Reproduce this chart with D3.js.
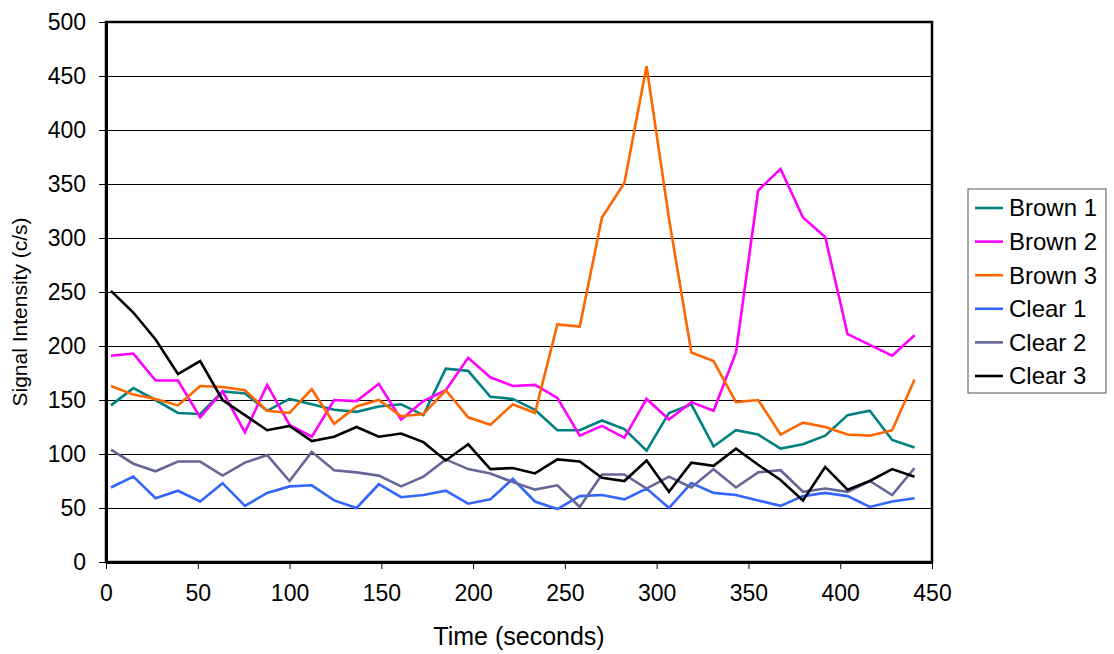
<!DOCTYPE html>
<html><head><meta charset="utf-8">
<script src="https://cdn.jsdelivr.net/npm/d3@7"></script>
<style>body{margin:0;background:#fff} svg text{font-family:"Liberation Sans",Arial,sans-serif;fill:#000}</style>
</head><body><svg id="c" width="1114" height="654"></svg>
<script>
const times = [2.7,14.9,27.0,39.2,51.3,63.5,75.7,87.8,100.0,112.1,124.3,136.5,148.6,160.8,172.9,185.1,197.3,209.4,221.6,233.7,245.9,258.1,270.2,282.4,294.5,306.7,318.9,331.0,343.2,355.3,367.5,379.7,391.8,404.0,416.1,428.3,440.5];
const seriesNames = ["Brown 1","Brown 2","Brown 3","Clear 1","Clear 2","Clear 3"];
const seriesColors = ["#008080","#FF00FF","#FF6600","#3366FF","#666699","#000000"];
const brown1 = [145,161,150,138,137,158,156,140,151,146,141,139,144,146,136,179,177,153,151,141,122,122,131,123,103,138,146,107,122,118,105,109,117,136,140,113,106];
const brown2 = [191,193,168,168,134,158,120,164,127,116,150,149,165,132,149,159,189,171,163,164,152,117,126,115,151,132,148,140,194,344,364,319,301,211,201,191,210];
const brown3 = [163,155,151,145,163,162,159,140,138,160,128,144,150,135,137,159,134,127,146,138,220,218,319,351,459,318,194,186,148,150,118,129,125,118,117,122,169];
const clear1 = [69,79,59,66,56,73,52,64,70,71,57,50,72,60,62,66,54,58,77,56,49,61,62,58,68,50,73,64,62,57,52,61,64,61,51,56,59];
const clear2 = [104,91,84,93,93,80,92,99,75,102,85,83,80,70,79,95,86,82,74,67,71,51,81,81,68,79,69,86,69,83,85,65,68,65,75,62,87];
const clear3 = [251,231,206,174,186,150,136,122,126,112,116,125,116,119,111,94,109,86,87,82,95,93,78,75,94,65,92,89,105,90,76,57,88,67,75,86,79];
const xTicks = [0,50,100,150,200,250,300,350,400,450];
const yTicks = [0,50,100,150,200,250,300,350,400,450,500];
const xTitle = "Time (seconds)";
const yTitle = "Signal Intensity (c/s)";

const allSeries = [brown1,brown2,brown3,clear1,clear2,clear3];
const svg = d3.select("#c");
const m = {l:106, t:22, r:932, b:562};
const x = d3.scaleLinear().domain([0,450]).range([m.l,m.r]);
const y = d3.scaleLinear().domain([0,500]).range([m.b,m.t]);
const W = m.r-m.l, H = m.b-m.t;

// gridlines
svg.append("g").attr("transform",`translate(${m.l},0)`)
  .call(d3.axisLeft(y).tickValues(yTicks).tickSize(-W).tickFormat(""))
  .call(g=>{g.select(".domain").remove(); g.selectAll("line").attr("stroke","#000").attr("stroke-width",1).attr("shape-rendering","crispEdges");});

// frame
svg.append("rect").attr("x",m.l).attr("y",m.t).attr("width",W).attr("height",H)
  .attr("fill","none").attr("stroke","#000").attr("stroke-width",2.5);

// y axis
const ya = svg.append("g").attr("transform",`translate(${m.l},0)`)
  .call(d3.axisLeft(y).tickValues(yTicks).tickSize(7).tickSizeOuter(0).tickPadding(13));
ya.select(".domain").attr("stroke","#000").attr("stroke-width",3);
ya.selectAll("line").attr("stroke","#000").attr("stroke-width",1);
ya.selectAll("text").attr("font-size",23).attr("font-family","Liberation Sans, Arial, sans-serif").attr("fill","#000");

// x axis
const xa = svg.append("g").attr("transform",`translate(0,${m.b})`)
  .call(d3.axisBottom(x).tickValues(xTicks).tickSize(7).tickSizeOuter(0).tickPadding(16));
xa.select(".domain").attr("stroke","#000").attr("stroke-width",3);
xa.selectAll("line").attr("stroke","#000").attr("stroke-width",1);
xa.selectAll("text").attr("font-size",23).attr("font-family","Liberation Sans, Arial, sans-serif").attr("fill","#000");

// lines
const line = d3.line().x((d,i)=>x(times[i])).y(d=>y(d));
allSeries.forEach((s,k)=>{
  svg.append("path").datum(s).attr("d",line).attr("fill","none")
    .attr("stroke",seriesColors[k]).attr("stroke-width",2.6).attr("stroke-linejoin","miter");
});

// titles
svg.append("text").attr("x",519).attr("y",645).attr("text-anchor","middle")
  .attr("font-size",25).text(xTitle);
svg.append("text").attr("transform",`translate(27,312) rotate(-90)`).attr("text-anchor","middle")
  .attr("font-size",21).text(yTitle);

// legend
const lg = svg.append("g");
lg.append("rect").attr("x",968).attr("y",189).attr("width",138).attr("height",204)
  .attr("fill","#fff").attr("stroke","#555").attr("stroke-width",1);
seriesNames.forEach((n,k)=>{
  const cy = 208 + k*33.6;
  lg.append("line").attr("x1",975).attr("x2",1003).attr("y1",cy).attr("y2",cy)
    .attr("stroke",seriesColors[k]).attr("stroke-width",2.6);
  lg.append("text").attr("x",1009).attr("y",cy).attr("dy","0.35em").attr("font-size",24).text(n);
});
</script></body></html>
